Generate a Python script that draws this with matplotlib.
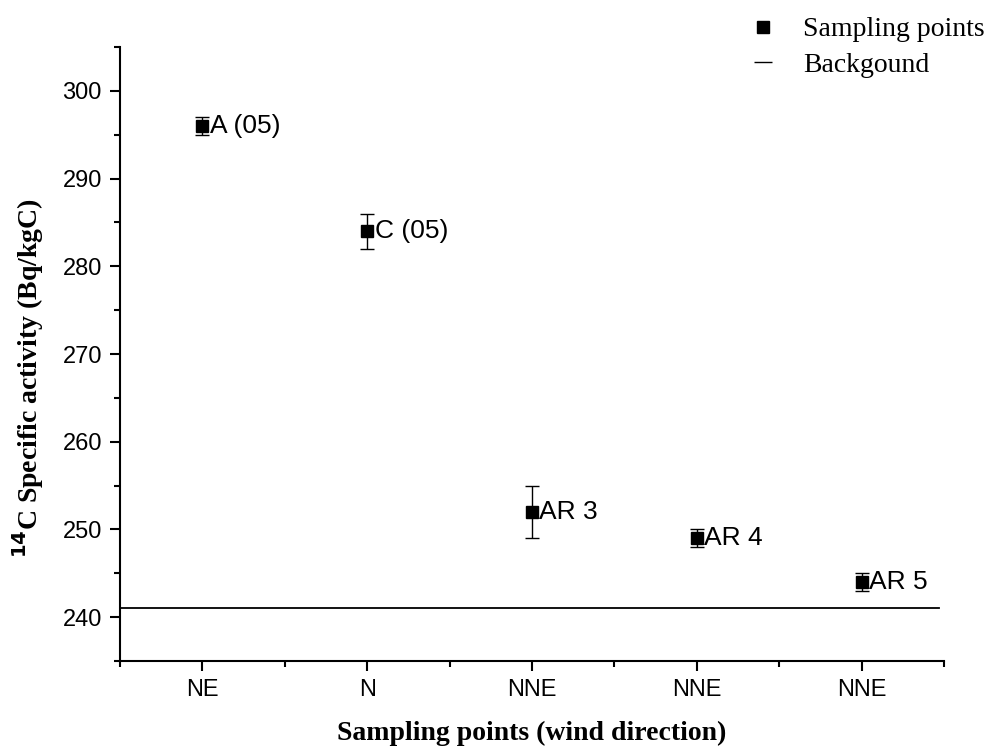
import matplotlib
matplotlib.use('Agg')
import matplotlib.pyplot as plt
from matplotlib.lines import Line2D
from matplotlib.ticker import MultipleLocator

directions = ['NE', 'N', 'NNE', 'NNE', 'NNE']
labels = ['A (05)', 'C (05)', 'AR 3', 'AR 4', 'AR 5']
activity = [296, 284, 252, 249, 244]
errors = [1, 2, 3, 1, 1]
background = 241

x = list(range(1, len(activity) + 1))

fig = plt.figure(figsize=(9.9, 7.52), dpi=100)
ax = fig.add_axes([0.1212, 0.121, 0.8323, 0.8165])

ax.errorbar(x, activity, yerr=errors, fmt='s', color='black', ms=8,
            ecolor='black', elinewidth=1, capsize=5, capthick=1)
ax.plot([0.5, 5.47], [background, background], color='black', lw=1.3)

for xi, yi, lab in zip(x, activity, labels):
    ax.text(xi + 0.045, yi, lab, fontsize=19, va='center', ha='left',
            family='Liberation Sans')

ax.set_xlim(0.5, 5.5)
ax.set_ylim(235, 305)
ax.set_xticks(x)
ax.set_xticklabels(directions)
ax.xaxis.set_minor_locator(MultipleLocator(0.5))
ax.yaxis.set_major_locator(MultipleLocator(10))
ax.yaxis.set_minor_locator(MultipleLocator(5))
ax.tick_params(which='major', direction='out', length=7, width=1.5, labelsize=17, pad=6)
ax.tick_params(which='minor', direction='out', length=4, width=1.5)
for t in ax.get_xticklabels() + ax.get_yticklabels():
    t.set_family('Liberation Sans')
ax.xaxis.set_minor_formatter(plt.NullFormatter())
ax.spines['top'].set_visible(False)
ax.spines['right'].set_visible(False)
ax.spines['left'].set_linewidth(1.5)
ax.spines['bottom'].set_linewidth(1.5)

ax.set_ylabel('$^{\\mathbf{14}}$C Specific activity (Bq/kgC)', fontsize=20,
              fontweight='bold', family='Liberation Serif')
ax.yaxis.set_label_coords(-0.09, 0.46)
ax.set_xlabel('Sampling points (wind direction)', fontsize=20,
              fontweight='bold', family='Liberation Serif')
ax.xaxis.set_label_coords(0.5, -0.097)

handles = [Line2D([], [], marker='s', ls='none', color='black', ms=8),
           Line2D([], [], marker='_', ls='none', color='black', ms=13, mew=1)]
fig.legend(handles, ['Sampling points', 'Backgound'], loc='upper right',
           bbox_to_anchor=(985 / 990, 1 - 17 / 752), frameon=False,
           borderaxespad=0, borderpad=0, handlelength=1.0,
           handletextpad=0.95, labelspacing=0.35,
           prop={'family': 'Liberation Serif', 'size': 20})

fig.savefig('out.png', dpi=100)
